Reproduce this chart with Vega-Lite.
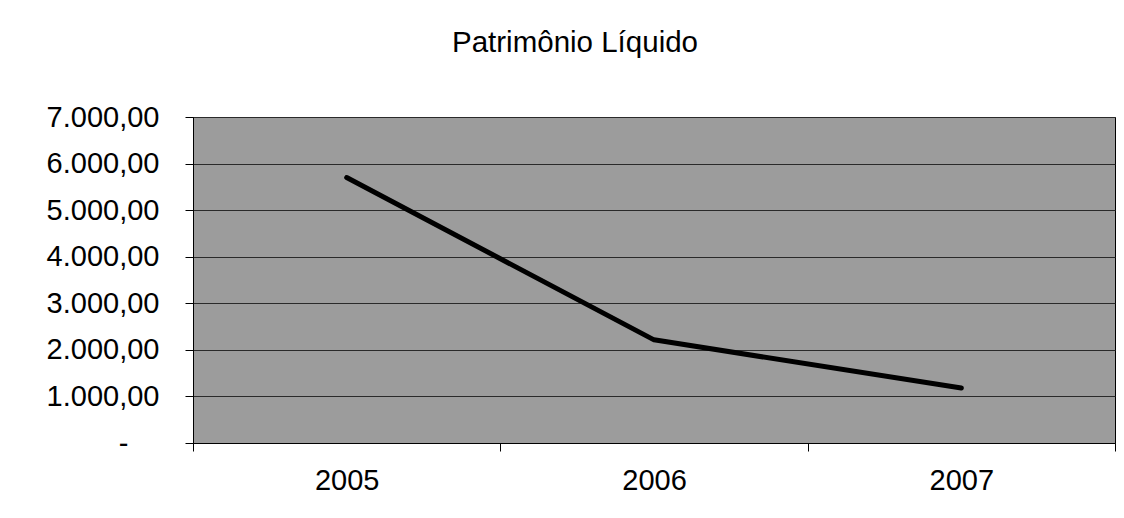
{
  "$schema": "https://vega.github.io/schema/vega-lite/v6.json",
  "autosize": {"type": "none"},
  "padding": {"left": 193, "top": 117, "right": 9, "bottom": 75},
  "width": 922,
  "height": 326,
  "background": "white",
  "title": {
    "text": "Patrimônio Líquido",
    "font": "Liberation Sans",
    "fontSize": 29.5,
    "fontWeight": "normal",
    "color": "black",
    "anchor": "middle",
    "frame": "group",
    "dx": -79,
    "offset": 45
  },
  "data": {
    "values": [
      {"ano": "2005", "valor": 5700},
      {"ano": "2006", "valor": 2215},
      {"ano": "2007", "valor": 1180}
    ]
  },
  "mark": {"type": "line", "color": "black", "strokeWidth": 5, "strokeCap": "round", "strokeJoin": "round"},
  "encoding": {
    "x": {
      "field": "ano",
      "type": "ordinal",
      "scale": {"paddingInner": 0, "paddingOuter": 0},
      "axis": {
        "title": null,
        "labelAngle": 0,
        "labelFont": "Liberation Sans",
        "labelFontSize": 29,
        "labelColor": "black",
        "labelPadding": 15,
        "tickBand": "extent",
        "tickSize": 8,
        "tickColor": "black",
        "domainColor": "black",
        "grid": false
      }
    },
    "y": {
      "field": "valor",
      "type": "quantitative",
      "scale": {"domain": [0, 7000], "nice": false, "zero": true},
      "axis": {
        "title": null,
        "values": [0, 1000, 2000, 3000, 4000, 5000, 6000, 7000],
        "labelFont": "Liberation Sans",
        "labelFontSize": 29,
        "labelColor": "black",
        "labelPadding": {"condition": {"test": "datum.value == 0", "value": 57}, "value": 26},
        "tickSize": 8,
        "tickColor": "black",
        "domainColor": "black",
        "grid": true,
        "gridColor": "#2a2a2a",
        "gridWidth": 1,
        "labelExpr": "datum.value == 0 ? '-' : replace(replace(replace(format(datum.value, ',.2f'), ',', '#'), '.', ','), '#', '.')"
      }
    }
  },
  "config": {
    "view": {"fill": "#9c9c9c", "stroke": "black", "strokeWidth": 1}
  }
}
